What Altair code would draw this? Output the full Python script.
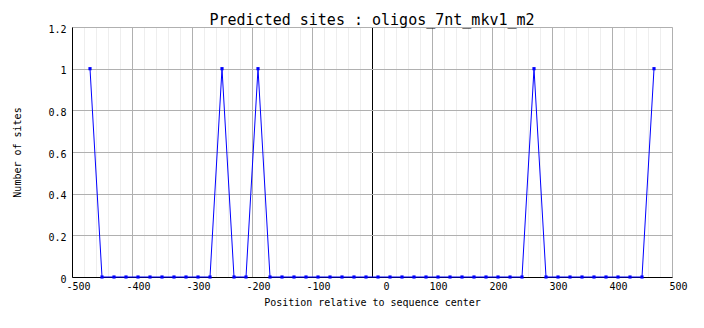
import altair as alt
import pandas as pd

positions = [-470, -450, -430, -410, -390, -370, -350, -330, -310, -290,
             -270, -250, -230, -210, -190, -170, -150, -130, -110, -90,
             -70, -50, -30, -10, 10, 30, 50, 70, 90, 110,
             130, 150, 170, 190, 210, 230, 250, 270, 290, 310,
             330, 350, 370, 390, 410, 430, 450, 470]
sites = [1, 0, 0, 0, 0, 0, 0, 0, 0, 0,
         0, 1, 0, 0, 1, 0, 0, 0, 0, 0,
         0, 0, 0, 0, 0, 0, 0, 0, 0, 0,
         0, 0, 0, 0, 0, 0, 0, 1, 0, 0,
         0, 0, 0, 0, 0, 0, 0, 1]

x_ticks = [-500, -480, -460, -440, -420, -400, -380, -360, -340, -320,
           -300, -280, -260, -240, -220, -200, -180, -160, -140, -120,
           -100, -80, -60, -40, -20, 0, 20, 40, 60, 80,
           100, 120, 140, 160, 180, 200, 220, 240, 260, 280,
           300, 320, 340, 360, 380, 400, 420, 440, 460, 480, 500]
y_ticks = [0, 0.2, 0.4, 0.6, 0.8, 1.0, 1.2]

title_text = "Predicted sites : oligos_7nt_mkv1_m2"
x_title = "Position relative to sequence center"
y_title = "Number of sites"

df = pd.DataFrame({"pos": positions, "n": sites})

FONT = "DejaVu Sans Mono"

x_enc = alt.X(
    "pos:Q",
    scale=alt.Scale(domain=[-500, 500], nice=False, zero=False),
    axis=alt.Axis(
        values=x_ticks,
        title=x_title,
        labelExpr="datum.value % 100 == 0 ? '' + datum.value : ''",
        labelOffset=alt.ExprRef("datum.value == 0 ? 14 : 6"),
        labelFont=FONT, labelFontSize=10, labelColor="black",
        labelPadding=4, labelFlush=False, labelOverlap=False,
        titleFont=FONT, titleFontSize=10, titleFontWeight="normal", titleColor="black",
        titlePadding=6,
        ticks=False,
        domainColor="black", domainWidth=1,
        grid=True,
        gridColor=alt.ExprRef("datum.value == 0 ? '#000000' : (datum.value % 100 == 0 ? '#b0b0b0' : '#eeeeee')"),
        gridWidth=1,
    ),
)
y_enc = alt.Y(
    "n:Q",
    scale=alt.Scale(domain=[0, 1.2], nice=False),
    axis=alt.Axis(
        values=y_ticks,
        title=y_title,
        format=".1~f",
        labelFont=FONT, labelFontSize=10, labelColor="black",
        labelPadding=6, labelOffset=2, labelFlush=False,
        titleFont=FONT, titleFontSize=10, titleFontWeight="normal", titleColor="black",
        titleX=-55, titleY=125, titleAngle=-90, titleAlign="center", titleBaseline="middle",
        ticks=False,
        domainColor="black", domainWidth=1,
        grid=True, gridColor="#b0b0b0", gridWidth=1,
    ),
)

base = alt.Chart(df).encode(x=x_enc, y=y_enc)
line = base.mark_line(color="#0000ff", strokeWidth=1)
pts = base.mark_square(color="#0000ff", size=10, opacity=1)

chart = (
    alt.layer(line, pts)
    .properties(
        width=600,
        height=250,
        title=alt.TitleParams(
            title_text, font=FONT, fontSize=15, fontWeight="normal", color="black",
            anchor="middle", frame="group", baseline="alphabetic", offset=4, dy=20,
        ),
        autosize=alt.AutoSizeParams(type="none"),
        padding={"left": 72, "top": 27, "right": 32, "bottom": 51},
    )
    .configure_view(stroke="#b0b0b0", strokeWidth=1)
    .configure(background="white")
)

chart.save("out.html", embed_options={"renderer": "svg", "actions": False})
